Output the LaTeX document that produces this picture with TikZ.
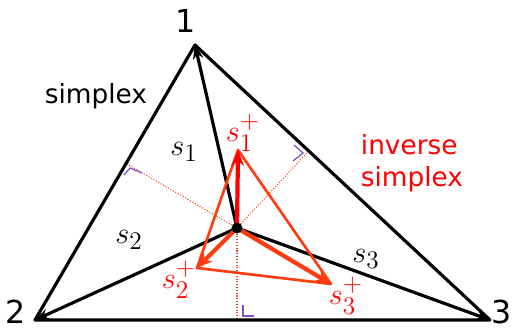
\documentclass[tikz,border=0pt]{standalone}
\usepackage{fontspec}
\usepackage{amsmath}
\setmainfont{DejaVu Sans}
\usetikzlibrary{arrows.meta}
\usetikzlibrary{calc}

\definecolor{invred}{HTML}{FF0000}
\definecolor{invorange}{HTML}{FF3B0F}
\definecolor{markpurple}{HTML}{7A4FC8}

\begin{document}
\begin{tikzpicture}[x=0.02cm,y=-0.02cm,
		font=\fontsize{15}{18}\selectfont,
		vlabel/.style={font=\fontsize{18}{20}\selectfont},
		slabel/.style={font=\fontsize{19}{21}\selectfont},
		edge/.style={line width=1.8pt, line join=round},
		spoke/.style={line width=1.8pt, -{Stealth[length=8pt,width=6pt]}},
		perp/.style={densely dotted, line width=0.6pt, invorange},
		rmark/.style={line width=0.7pt, markpurple},
		invedge/.style={line width=1.5pt, invorange, line join=round},
		invarrow/.style={line width=2.4pt, -{Stealth[length=9pt,width=7pt]}}]
	\useasboundingbox (0,0) rectangle (512,333);
	\tikzstyle{every node}=[inner sep=0pt]
	\coordinate (v1) at (195,45);
	\coordinate (v2) at (35,320);
	\coordinate (v3) at (490,320);
	\coordinate (p) at (237,228);
	\coordinate (sp1) at (238,150);
	\coordinate (sp2) at (197,268);
	\coordinate (sp3) at (331,284);
	
	% feet of the perpendiculars
	\coordinate (f12) at ($(v1)!(p)!(v2)$);
	\coordinate (f13) at ($(v1)!(p)!(v3)$);
	\coordinate (f23) at ($(v2)!(p)!(v3)$);
	
	\draw[perp] (p) -- (f12);
	\draw[perp] (p) -- (f13);
	\draw[perp] (p) -- (f23);
	
	\draw[rmark] (124,175) -- (130,168) -- (142,173);
	\draw[rmark] (293,161) -- (303,153) -- (294,145);
	\draw[rmark] (243,305) -- (243,316) -- (254,316);
	
	\draw[edge] (v1) -- (v2) -- (v3) -- cycle;
	\draw[spoke] (p) -- (v1);
	\draw[spoke] (p) -- (v2);
	\draw[spoke] (p) -- (v3);
	
	\draw[invedge] (sp1) -- (sp2) -- (sp3) -- cycle;
	\draw[invarrow, invred] (p) -- (sp1);
	\draw[invarrow, invorange] (p) -- (sp2);
	\draw[invarrow, invorange] (p) -- (sp3);
	\fill (p) circle (5.5);
	
	\node[vlabel] (l1) at (186,21) {1};
	\node[vlabel] (l2) at (16,312) {2};
	\node[vlabel] (l3) at (502,312) {3};
	\node (simp) at (96,96) {simplex};
	\node[invred, align=left] (inv) at (412,163) {inverse\\simplex};
	
	\node[slabel] (s1) at (184,152) {$s_1$};
	\node[slabel] (s2) at (129,240) {$s_2$};
	\node[slabel] (s3) at (366,259) {$s_3$};
	\node[slabel, invred] (ls1) at (243,133) {$s_1^+$};
	\node[slabel, invred] (ls2) at (179,280) {$s_2^+$};
	\node[slabel, invred] (ls3) at (346,296) {$s_3^+$};
\end{tikzpicture}
\end{document}
